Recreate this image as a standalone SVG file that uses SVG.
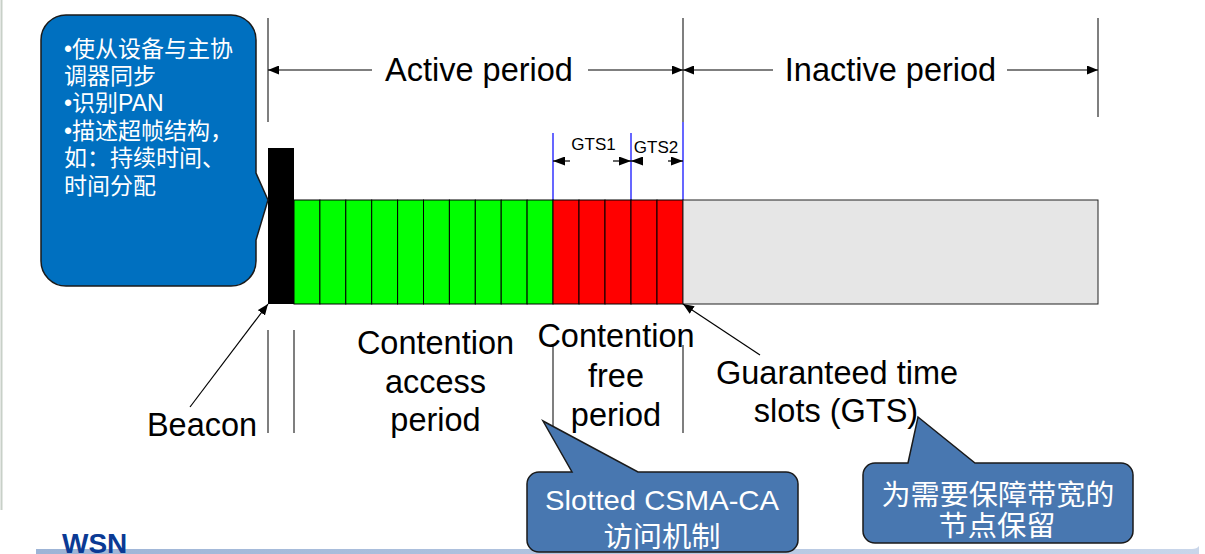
<svg xmlns="http://www.w3.org/2000/svg" width="1205" height="554" viewBox="0 0 1205 554">
  <defs>
    <marker id="arr" markerUnits="userSpaceOnUse" markerWidth="11" markerHeight="9" refX="11" refY="4.5" orient="auto">
      <path d="M0,0 L11,4.5 L0,9 Z" fill="#000"/>
    </marker>
    <marker id="arrG" markerUnits="userSpaceOnUse" markerWidth="12" markerHeight="9" refX="12" refY="4.5" orient="auto">
      <path d="M0,0 L12,4.5 L0,9 Z" fill="#000"/>
    </marker>
    <linearGradient id="barGrad" x1="0" y1="0" x2="1" y2="0">
      <stop offset="0" stop-color="#9db4d6"/>
      <stop offset="1" stop-color="#c9d6ea"/>
    </linearGradient>
  </defs>
  <style>
    .lbl { font-family: "Liberation Sans", Arial, sans-serif; font-size: 32.5px; fill: #000; text-anchor: middle; }
    .gts { font-family: "Liberation Sans", Arial, sans-serif; font-size: 17px; fill: #000; text-anchor: middle; }
    .cw { font-family: "Liberation Sans", "Noto Sans CJK SC", sans-serif; fill: #fff; }
    .dim { stroke: #555; stroke-width: 1.5; fill: none; }
    .arrline { stroke: #000; stroke-width: 1.2; fill: none; marker-end: url(#arr); }
    .gtsline { stroke: #000; stroke-width: 1.2; fill: none; marker-end: url(#arrG); }
    .blue { stroke: #0000ff; stroke-width: 1.2; fill: none; }
    .green { fill: #00ff00; stroke: #000; stroke-width: 1; }
    .red { fill: #ff0000; stroke: #000; stroke-width: 1; }
    .callout { fill: #4877b0; stroke: #1a1a1a; stroke-width: 1.5; }
  </style>

  <!-- page frame -->
  <g id="frame">
    <rect x="0" y="0" width="1205" height="554" fill="#fff"/>
    <line x1="1.5" y1="0" x2="1.5" y2="510" stroke="#c8d0c8" stroke-width="2"/>
    <path d="M36,549 H1192 Q1197,549 1199,546 L1199,554 H36 Z" fill="url(#barGrad)"/>
    <text x="62" y="553" font-family="Liberation Sans, Arial, sans-serif" font-size="28" font-weight="bold" fill="#0b3a94">WSN</text>
  </g>

  <!-- dimension / extension lines -->
  <g id="extension-lines">
    <line class="dim" x1="268" y1="18" x2="268" y2="122"/>
    <line class="dim" x1="683" y1="18" x2="683" y2="122"/>
    <line class="dim" x1="1098" y1="18" x2="1098" y2="117"/>
    <line class="dim" x1="268" y1="330" x2="268" y2="433"/>
    <line class="dim" x1="294" y1="330" x2="294" y2="433"/>
    <line class="dim" x1="553" y1="345" x2="553" y2="433"/>
    <line class="dim" x1="683" y1="345" x2="683" y2="433"/>
    <line class="blue" x1="553" y1="133" x2="553" y2="200"/>
    <line class="blue" x1="631" y1="133" x2="631" y2="200"/>
    <line class="blue" x1="683" y1="122" x2="683" y2="200"/>
  </g>

  <!-- superframe blocks -->
  <g id="beacon-slot">
    <rect x="268" y="148" width="26" height="156" fill="#000"/>
  </g>
  <g id="cap-slots">
    <rect class="green" x="294" y="200" width="25.9" height="104"/>
    <rect class="green" x="319.9" y="200" width="25.9" height="104"/>
    <rect class="green" x="345.8" y="200" width="25.9" height="104"/>
    <rect class="green" x="371.7" y="200" width="25.9" height="104"/>
    <rect class="green" x="397.6" y="200" width="25.9" height="104"/>
    <rect class="green" x="423.5" y="200" width="25.9" height="104"/>
    <rect class="green" x="449.4" y="200" width="25.9" height="104"/>
    <rect class="green" x="475.3" y="200" width="25.9" height="104"/>
    <rect class="green" x="501.2" y="200" width="25.9" height="104"/>
    <rect class="green" x="527.1" y="200" width="25.9" height="104"/>
  </g>
  <g id="cfp-slots">
    <rect class="red" x="553" y="200" width="26" height="104"/>
    <rect class="red" x="579" y="200" width="26" height="104"/>
    <rect class="red" x="605" y="200" width="26" height="104"/>
    <rect class="red" x="631" y="200" width="26" height="104"/>
    <rect class="red" x="657" y="200" width="26" height="104"/>
  </g>
  <g id="inactive-slot">
    <rect x="683" y="200" width="415" height="104" fill="#e6e6e6" stroke="#222" stroke-width="1"/>
  </g>

  <!-- connectors -->
  <g id="connectors">
    <line class="arrline" x1="372" y1="70" x2="268" y2="70"/>
    <line class="arrline" x1="588" y1="70" x2="683" y2="70"/>
    <line class="arrline" x1="773" y1="70" x2="683" y2="70"/>
    <line class="arrline" x1="1007" y1="70" x2="1098" y2="70"/>
    <line class="gtsline" x1="570" y1="161" x2="553" y2="161"/>
    <line class="gtsline" x1="613" y1="161" x2="631" y2="161"/>
    <line class="gtsline" x1="643" y1="161" x2="631" y2="161"/>
    <line class="gtsline" x1="668" y1="161" x2="683" y2="161"/>
    <line class="arrline" x1="190" y1="407" x2="268" y2="304"/>
    <line class="arrline" x1="760" y1="355" x2="683" y2="304"/>
  </g>

  <!-- labels -->
  <g id="label-active"><text class="lbl" x="479" y="81">Active period</text></g>
  <g id="label-inactive"><text class="lbl" x="890.5" y="81">Inactive period</text></g>
  <g id="label-gts1"><text class="gts" x="593.5" y="150">GTS1</text></g>
  <g id="label-gts2"><text class="gts" x="656" y="153">GTS2</text></g>
  <g id="label-beacon"><text class="lbl" x="202" y="436">Beacon</text></g>
  <g id="label-cap">
    <text class="lbl" x="435.5" y="354">Contention</text>
    <text class="lbl" x="435.5" y="393">access</text>
    <text class="lbl" x="435.5" y="431">period</text>
  </g>
  <g id="label-cfp">
    <text class="lbl" x="616" y="347">Contention</text>
    <text class="lbl" x="616" y="387">free</text>
    <text class="lbl" x="616" y="426">period</text>
  </g>
  <g id="label-gts">
    <text class="lbl" x="837" y="384">Guaranteed time</text>
    <text class="lbl" x="836" y="422">slots (GTS)</text>
  </g>

  <!-- callouts -->
  <g id="callout-beacon">
    <path d="M66,15 H231 A25,25 0 0 1 256,40 V173 L268,200 L256,240 V261 A25,25 0 0 1 231,286 H66 A25,25 0 0 1 41,261 V40 A25,25 0 0 1 66,15 Z" fill="#0070c0" stroke="#1a1a1a" stroke-width="1.5"/>
    <g class="cw" font-size="23">
      <text x="64" y="57">•使从设备与主协</text>
      <text x="64" y="84">调器同步</text>
      <text x="64" y="111">•识别PAN</text>
      <text x="64" y="139">•描述超帧结构，</text>
      <text x="64" y="166">如：持续时间、</text>
      <text x="64" y="194">时间分配</text>
    </g>
  </g>
  <g id="callout-csma">
    <path class="callout" d="M539,472 H572 L543,421 L638,472 H786 A12,12 0 0 1 798,484 V540 A12,12 0 0 1 786,552 H539 A12,12 0 0 1 527,540 V484 A12,12 0 0 1 539,472 Z"/>
    <text class="cw" font-size="28" x="662" y="510" text-anchor="middle" textLength="234" lengthAdjust="spacingAndGlyphs">Slotted CSMA-CA</text>
    <text class="cw" font-size="28" x="662" y="547" text-anchor="middle" textLength="117" lengthAdjust="spacingAndGlyphs">访问机制</text>
  </g>
  <g id="callout-gts">
    <path class="callout" d="M875,463 H908 L918,417 L975,463 H1121 A12,12 0 0 1 1133,475 V531 A12,12 0 0 1 1121,543 H875 A12,12 0 0 1 863,531 V475 A12,12 0 0 1 875,463 Z"/>
    <text class="cw" font-size="28" x="998" y="505" text-anchor="middle" textLength="233" lengthAdjust="spacingAndGlyphs">为需要保障带宽的</text>
    <text class="cw" font-size="28" x="997" y="536" text-anchor="middle" textLength="117" lengthAdjust="spacingAndGlyphs">节点保留</text>
  </g>
</svg>
